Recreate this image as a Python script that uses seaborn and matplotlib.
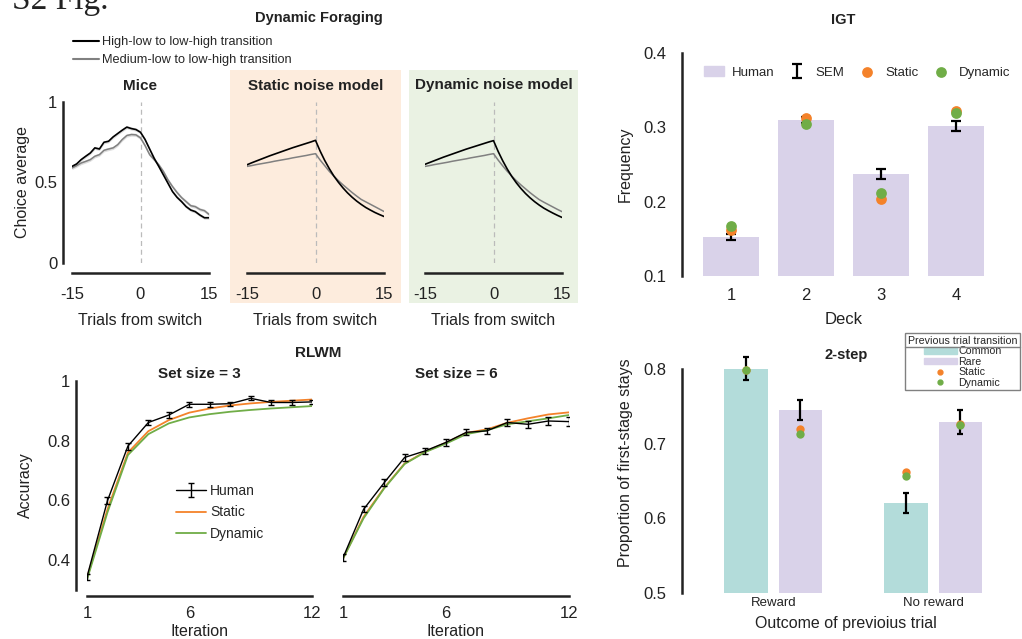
import numpy as np
import pandas as pd
import matplotlib
matplotlib.use("Agg")
import matplotlib.pyplot as plt
import seaborn as sns
from matplotlib.patches import Rectangle, Patch
from matplotlib.lines import Line2D

# ---------------- data ----------------
trials = np.arange(-15, 16)
mice_hl = [0.600, 0.615, 0.642, 0.663, 0.683, 0.715, 0.708, 0.750, 0.756, 0.783, 0.804,
           0.825, 0.844, 0.835, 0.829, 0.812, 0.767, 0.708, 0.650, 0.600, 0.548, 0.496,
           0.444, 0.408, 0.381, 0.350, 0.329, 0.319, 0.298, 0.281, 0.281]
mice_ml = [0.590, 0.604, 0.621, 0.631, 0.642, 0.663, 0.673, 0.700, 0.708, 0.715, 0.735,
           0.767, 0.792, 0.798, 0.796, 0.777, 0.729, 0.673, 0.642, 0.610, 0.569, 0.517,
           0.475, 0.438, 0.406, 0.381, 0.356, 0.350, 0.333, 0.325, 0.302]
mice_sem = [0.010] * 31
static_hl = [0.610, 0.622, 0.633, 0.644, 0.655, 0.666, 0.676, 0.686, 0.696, 0.706, 0.716,
             0.725, 0.734, 0.743, 0.752, 0.762, 0.696, 0.638, 0.587, 0.541, 0.502, 0.467,
             0.436, 0.409, 0.385, 0.364, 0.345, 0.329, 0.314, 0.301, 0.289]
static_ml = [0.600, 0.605, 0.611, 0.616, 0.621, 0.626, 0.632, 0.637, 0.642, 0.647, 0.653,
             0.658, 0.663, 0.668, 0.674, 0.679, 0.640, 0.605, 0.570, 0.540, 0.512, 0.486,
             0.462, 0.438, 0.416, 0.395, 0.380, 0.365, 0.350, 0.335, 0.320]
dynamic_hl = [0.613, 0.624, 0.635, 0.646, 0.657, 0.667, 0.677, 0.687, 0.697, 0.707, 0.716,
              0.725, 0.734, 0.743, 0.752, 0.760, 0.694, 0.636, 0.584, 0.538, 0.498, 0.463,
              0.432, 0.405, 0.381, 0.360, 0.341, 0.325, 0.310, 0.296, 0.283]
dynamic_ml = [0.600, 0.605, 0.611, 0.616, 0.621, 0.626, 0.632, 0.637, 0.642, 0.647, 0.653,
              0.658, 0.663, 0.668, 0.674, 0.679, 0.640, 0.604, 0.570, 0.540, 0.511, 0.485,
              0.461, 0.437, 0.415, 0.394, 0.378, 0.363, 0.348, 0.333, 0.319]

decks = ["1", "2", "3", "4"]
igt_human = [0.152, 0.310, 0.237, 0.302]
igt_sem = [0.004, 0.004, 0.007, 0.007]
igt_static = [0.162, 0.312, 0.204, 0.322]
igt_dynamic = [0.167, 0.304, 0.211, 0.319]

iterations = np.arange(1, 13)
rl3_human = [0.344, 0.599, 0.782, 0.861, 0.886, 0.922, 0.922, 0.924, 0.942, 0.928, 0.928, 0.930]
rl3_sem = [0.010, 0.012, 0.012, 0.010, 0.010, 0.008, 0.009, 0.007, 0.007, 0.007, 0.007, 0.008]
rl3_static = [0.340, 0.570, 0.760, 0.832, 0.869, 0.894, 0.908, 0.918, 0.925, 0.930, 0.934, 0.938]
rl3_dynamic = [0.335, 0.560, 0.752, 0.822, 0.858, 0.878, 0.889, 0.897, 0.903, 0.908, 0.912, 0.916]
rl6_human = [0.408, 0.570, 0.659, 0.744, 0.766, 0.794, 0.828, 0.833, 0.861, 0.855, 0.866, 0.864]
rl6_sem = [0.011, 0.010, 0.012, 0.013, 0.010, 0.011, 0.010, 0.010, 0.012, 0.012, 0.013, 0.014]
rl6_static = [0.405, 0.545, 0.642, 0.724, 0.763, 0.793, 0.826, 0.838, 0.860, 0.875, 0.888, 0.895]
rl6_dynamic = [0.405, 0.540, 0.640, 0.722, 0.762, 0.790, 0.822, 0.835, 0.855, 0.865, 0.875, 0.886]

outcomes = ["Reward", "No reward"]
transitions = ["Common", "Rare"]
step_human = [[0.800, 0.745], [0.621, 0.729]]
step_sem = [[0.0155, 0.0135], [0.0135, 0.016]]
step_static = [[0.799, 0.720], [0.662, 0.726]]
step_dynamic = [[0.798, 0.713], [0.656, 0.725]]

# ---------------- style ----------------
sns.set_theme(style="white")
plt.rcParams["font.family"] = ["Liberation Sans", "DejaVu Sans"]
plt.rcParams["axes.edgecolor"] = "#222222"
plt.rcParams["axes.unicode_minus"] = False

ORANGE = "#F4822A"
GREEN = "#70AD47"
LAVENDER = "#D9D2E9"
TEAL = "#B3DCDA"
GRAY = "#808080"
TXT = "#222222"

W, H = 1022, 639
fig = plt.figure(figsize=(W / 100, H / 100), dpi=100)


def box(l, t, r, b):
    return [l / W, 1 - b / H, (r - l) / W, (b - t) / H]


def matlab_axes(ax, left=True, bottom=True, lpad=4, bpad=8):
    sns.despine(ax=ax)
    for s in ["left", "bottom"]:
        ax.spines[s].set_linewidth(1.8)
        ax.spines[s].set_color(TXT)
    if not left:
        ax.spines["left"].set_visible(False)
        ax.tick_params(axis="y", left=False, labelleft=False)
    if not bottom:
        ax.spines["bottom"].set_visible(False)
    ax.tick_params(axis="y", direction="in", length=5, width=1.5, labelsize=12, pad=lpad, colors=TXT)
    ax.tick_params(axis="x", direction="in", length=5, width=1.5, labelsize=12, pad=bpad, colors=TXT)
    ax.set_facecolor("none")


# ---------------- Dynamic foraging ----------------
fig.patches.append(Rectangle((230 / W, 1 - 303 / H), 171 / W, 233 / H, transform=fig.transFigure,
                             facecolor="#FDECDD", edgecolor="none", zorder=-5))
fig.patches.append(Rectangle((409 / W, 1 - 303 / H), 169 / W, 233 / H, transform=fig.transFigure,
                             facecolor="#EAF2E3", edgecolor="none", zorder=-5))

panels = [(72, 209, "Mice", mice_hl, mice_ml, True),
          (247, 384, "Static noise model", static_hl, static_ml, False),
          (425, 562, "Dynamic noise model", dynamic_hl, dynamic_ml, False)]
for l, r, title, hl, ml, first in panels:
    ax = fig.add_axes(box(l, 102, r, 263))
    ax.axvline(0, color="#BBBBBB", lw=0.9, ls=(0, (4, 3)), zorder=1)
    if first:
        ax.fill_between(trials, np.array(ml) - mice_sem, np.array(ml) + mice_sem, color="#DDDDDD", lw=0)
        ax.fill_between(trials, np.array(hl) - mice_sem, np.array(hl) + mice_sem, color="#DDDDDD", lw=0)
    sns.lineplot(x=trials, y=ml, color=GRAY, lw=1.1, ax=ax)
    sns.lineplot(x=trials, y=hl, color="black", lw=1.2, ax=ax)
    ax.set_xlim(-15, 15)
    ax.set_ylim(0, 1)
    ax.set_xticks([-15, 0, 15])
    ax.set_yticks([0, 0.5, 1])
    ax.set_yticklabels(["0", "0.5", "1"])
    matlab_axes(ax, left=first, bpad=10)
    ax.spines["bottom"].set_position(("outward", 7.2))
    ax.spines["left"].set_position(("outward", 6.5))
    ax.set_xlabel("Trials from switch", fontsize=11.5, color=TXT, labelpad=8)
    if first:
        ax.set_ylabel("Choice average", fontsize=11.5, color=TXT, labelpad=3)
    ax.set_title(title, fontsize=11, fontweight="bold", color=TXT, pad=9)

fig.text(319 / W, 1 - 18 / H, "Dynamic Foraging", ha="center", va="center",
         fontsize=10.5, fontweight="bold", color=TXT)
fig.legend(handles=[Line2D([], [], color="black", lw=1.5), Line2D([], [], color=GRAY, lw=1.5)],
           labels=["High-low to low-high transition", "Medium-low to low-high transition"],
           loc="upper left", bbox_to_anchor=(73 / W, 1 - 36 / H), frameon=False, fontsize=9.2,
           handlelength=2.0, handletextpad=0.3, labelspacing=0.5, borderpad=0, borderaxespad=0)

fig.text(12 / W, 1 - 9 / H, "S2 Fig.", fontsize=24, family="Liberation Serif",
         ha="left", va="baseline", color=TXT)

# ---------------- IGT ----------------
ax = fig.add_axes(box(682, 53, 1005, 276))
sns.barplot(x=decks, y=igt_human, color=LAVENDER, saturation=1, width=0.75, linewidth=0, ax=ax)
pos = np.arange(len(decks))
sem_h = ax.errorbar(pos, igt_human, yerr=igt_sem, fmt="none", ecolor="black", elinewidth=1.6,
                    capsize=3.5, capthick=1.6, zorder=3)
st_h = ax.scatter(pos, igt_static, s=60, color=ORANGE, zorder=4, lw=0)
dy_h = ax.scatter(pos, igt_dynamic, s=60, color=GREEN, zorder=5, lw=0)
ax.set_xlim(-0.653, 3.653)
ax.set_ylim(0.1, 0.4)
ax.set_yticks([0.1, 0.2, 0.3, 0.4])
matlab_axes(ax, bottom=False, lpad=11, bpad=9)
ax.tick_params(axis="x", length=0)
ax.set_xlabel("Deck", fontsize=12, color=TXT, labelpad=6)
ax.set_ylabel("Frequency", fontsize=11.5, color=TXT, labelpad=8)
ax.set_title("IGT", fontsize=10.5, fontweight="bold", color=TXT, pad=21)
ax.legend(handles=[Patch(color=LAVENDER), sem_h, st_h, dy_h],
          labels=["Human", "SEM", "Static", "Dynamic"], ncol=4, loc="upper left",
          bbox_to_anchor=(0.068, 0.94), frameon=False, fontsize=9.5, handlelength=1.5,
          handletextpad=0.6, columnspacing=1.0, borderpad=0, borderaxespad=0)

# ---------------- RLWM ----------------
rl_panels = [(87, 312, "Set size = 3", rl3_human, rl3_sem, rl3_static, rl3_dynamic, True),
             (343, 569, "Set size = 6", rl6_human, rl6_sem, rl6_static, rl6_dynamic, False)]
for l, r, title, hum, sem, sta, dyn, first in rl_panels:
    ax = fig.add_axes(box(l, 381, r, 590))
    sns.lineplot(x=iterations, y=sta, color=ORANGE, lw=1.3, ax=ax, label="Static")
    sns.lineplot(x=iterations, y=dyn, color=GREEN, lw=1.3, ax=ax, label="Dynamic")
    ax.errorbar(iterations, hum, yerr=sem, color="black", lw=1.0, capsize=2.5,
                capthick=1.0, elinewidth=1.0, zorder=4, label="Human")
    ax.set_xlim(1, 12)
    ax.set_ylim(0.3, 1.0)
    ax.set_xticks([1, 6, 12])
    ax.set_yticks([0.4, 0.6, 0.8, 1.0])
    ax.set_yticklabels(["0.4", "0.6", "0.8", "1"])
    matlab_axes(ax, left=first, lpad=4, bpad=7)
    ax.spines["bottom"].set_position(("outward", 4.5))
    ax.spines["left"].set_position(("outward", 8))
    ax.set_xlabel("Iteration", fontsize=11.5, color=TXT, labelpad=2)
    ax.set_title(title, fontsize=11, fontweight="bold", color=TXT, pad=2)
    if first:
        ax.set_ylabel("Accuracy", fontsize=11.5, color=TXT, labelpad=10)
        hs, ls = ax.get_legend_handles_labels()
        order = [ls.index(k) for k in ["Human", "Static", "Dynamic"]]
        ax.legend([hs[i] for i in order], [ls[i] for i in order], loc="upper left",
                  bbox_to_anchor=(0.395, 0.508), frameon=False, fontsize=10,
                  handlelength=2.2, handletextpad=0.25, labelspacing=0.55,
                  borderpad=0, borderaxespad=0)
    else:
        ax.get_legend().remove()

fig.text(318 / W, 1 - 353 / H, "RLWM", ha="center", va="center", fontsize=11,
         fontweight="bold", color=TXT)

# ---------------- 2-step ----------------
ax = fig.add_axes(box(682, 333, 1010, 593))
step_df = pd.DataFrame({
    "outcome": [o for o in outcomes for t in transitions],
    "transition": [t for o in outcomes for t in transitions],
    "value": [step_human[i][j] for i in range(2) for j in range(2)],
})
sns.barplot(data=step_df, x="outcome", y="value", hue="transition", hue_order=transitions,
            palette=[TEAL, LAVENDER], saturation=1, width=0.68, gap=0.2, linewidth=0,
            legend=False, ax=ax)
for i in range(len(outcomes)):
    for j, off in enumerate([-0.17, 0.17]):
        ax.errorbar(i + off, step_human[i][j], yerr=step_sem[i][j], fmt="none", ecolor="black",
                    elinewidth=1.6, capsize=2.5, capthick=1.6, zorder=3)
        ax.scatter(i + off, step_static[i][j], s=36, color=ORANGE, zorder=4, lw=0)
        ax.scatter(i + off, step_dynamic[i][j], s=36, color=GREEN, zorder=5, lw=0)
ax.set_xlim(-0.57, 1.48)
ax.set_ylim(0.5, 0.848)
ax.set_yticks([0.5, 0.6, 0.7, 0.8])
matlab_axes(ax, bottom=False, lpad=11, bpad=3)
ax.spines["left"].set_bounds(0.5, 0.8)
ax.tick_params(axis="x", length=0, labelsize=9.5)
ax.set_xlabel("Outcome of previoius trial", fontsize=11.5, color=TXT, labelpad=5)
ax.set_ylabel("Proportion of first-stage stays", fontsize=11.5, color=TXT, labelpad=8)
ax.text(0.5, 0.915, "2-step", transform=ax.transAxes, ha="center", va="center",
        fontsize=10.5, fontweight="bold", color=TXT)
leg = ax.legend(handles=[Patch(color=TEAL), Patch(color=LAVENDER),
                         Line2D([], [], ls="none", marker="o", ms=3.5, color=ORANGE),
                         Line2D([], [], ls="none", marker="o", ms=3.5, color=GREEN)],
                labels=transitions + ["Static", "Dynamic"], title="Previous trial transition",
                loc="upper right", bbox_to_anchor=(1020 / W, 1 - 333 / H),
                bbox_transform=fig.transFigure, fontsize=7.7, title_fontsize=7.7,
                handlelength=3.1, handleheight=0.6, handletextpad=0.15, labelspacing=0.05,
                borderpad=0.25, borderaxespad=0, fancybox=False, edgecolor=GRAY, framealpha=1)
leg.get_frame().set_linewidth(1.0)

fig.canvas.draw()
bb = leg.get_window_extent()
tb = leg.get_title().get_window_extent()
yline = (tb.y0 - 1) / fig.bbox.height
fig.add_artist(Line2D([bb.x0 / fig.bbox.width, bb.x1 / fig.bbox.width], [yline, yline],
                      transform=fig.transFigure, color=GRAY, lw=1.0))

fig.savefig("out.png", dpi=100)
